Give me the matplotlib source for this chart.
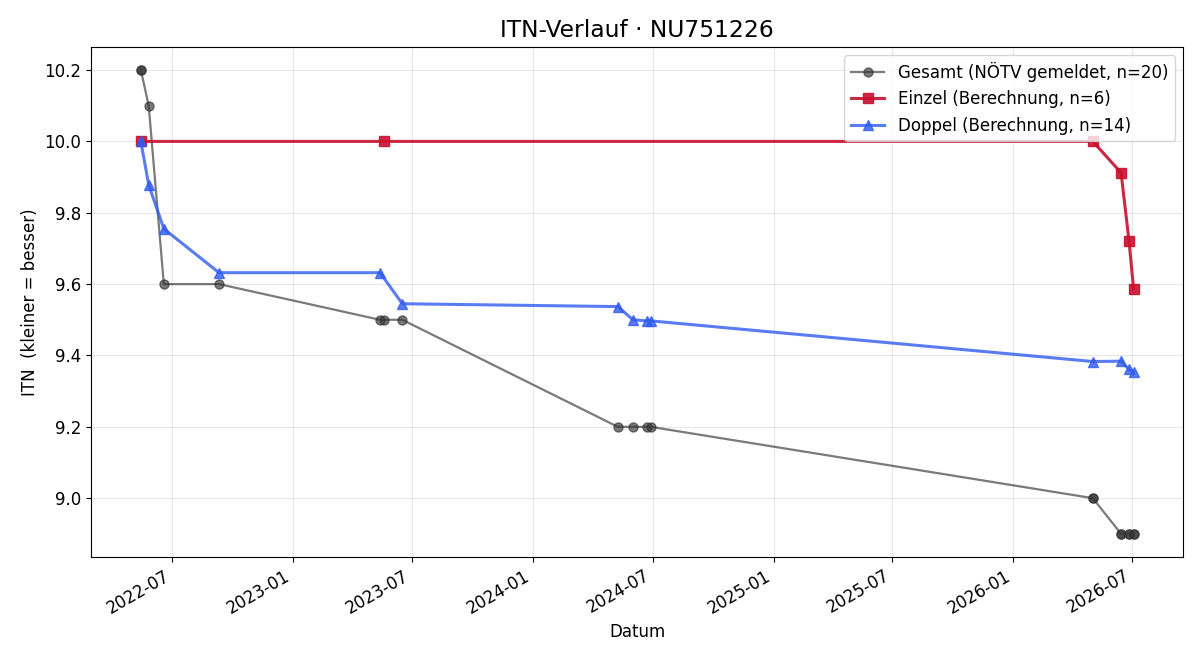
import matplotlib
matplotlib.use('Agg')
import matplotlib.pyplot as plt
import matplotlib.dates as mdates
import pandas as pd

# Gesamt (NÖTV gemeldet)
gesamt_datum = ['2022-05-14', '2022-05-14', '2022-05-26', '2022-06-18', '2022-09-10',
                '2023-05-13', '2023-05-19', '2023-06-16', '2024-05-09', '2024-06-01',
                '2024-06-22', '2024-06-28', '2026-05-02', '2026-05-02', '2026-06-14',
                '2026-06-14', '2026-06-26', '2026-06-26', '2026-07-03', '2026-07-03']
gesamt_itn = [10.2, 10.2, 10.1, 9.6, 9.6,
              9.5, 9.5, 9.5, 9.2, 9.2,
              9.2, 9.2, 9.0, 9.0, 8.9,
              8.9, 8.9, 8.9, 8.9, 8.9]

# Einzel (Berechnung)
einzel_datum = ['2022-05-14', '2023-05-19', '2026-05-02', '2026-06-14', '2026-06-26', '2026-07-03']
einzel_itn = [10.0, 10.0, 10.0, 9.912, 9.722, 9.587]

# Doppel (Berechnung)
doppel_datum = ['2022-05-14', '2022-05-26', '2022-06-18', '2022-09-10', '2023-05-13',
                '2023-06-16', '2024-05-09', '2024-06-01', '2024-06-22', '2024-06-28',
                '2026-05-02', '2026-06-14', '2026-06-26', '2026-07-03']
doppel_itn = [10.0, 9.878, 9.755, 9.632, 9.632,
              9.545, 9.537, 9.50, 9.497, 9.497,
              9.383, 9.384, 9.361, 9.355]

fig, ax = plt.subplots(figsize=(12, 6.6), dpi=100)

ax.plot(pd.to_datetime(gesamt_datum), gesamt_itn, marker='o', color='#333333', alpha=0.65,
        lw=1.6, markersize=6.5, label=f'Gesamt (NÖTV gemeldet, n={len(gesamt_itn)})')
ax.plot(pd.to_datetime(einzel_datum), einzel_itn, marker='s', color='#c8102e', alpha=0.9,
        lw=2.2, markersize=7, label=f'Einzel (Berechnung, n={len(einzel_itn)})')
ax.plot(pd.to_datetime(doppel_datum), doppel_itn, marker='^', color='#2f5bf0', alpha=0.8,
        lw=2.2, markersize=7, label=f'Doppel (Berechnung, n={len(doppel_itn)})')

ax.set_title('ITN-Verlauf · NU751226', fontsize=16.8, pad=7)
ax.set_xlabel('Datum', fontsize=12)
ax.set_ylabel('ITN  (kleiner = besser)', fontsize=12)
ax.grid(True, alpha=0.3)
ax.legend(loc='upper right', fontsize=12)
ax.xaxis.set_major_locator(mdates.MonthLocator(bymonth=[1, 7]))
ax.xaxis.set_major_formatter(mdates.DateFormatter('%Y-%m'))
ax.tick_params(labelsize=12)
fig.autofmt_xdate()
fig.subplots_adjust(left=0.076, right=0.986, top=0.929, bottom=0.156)
fig.savefig('out.png')
